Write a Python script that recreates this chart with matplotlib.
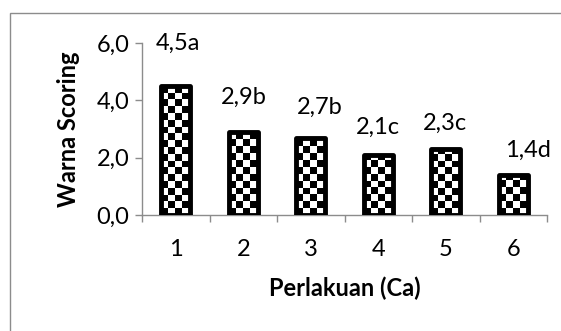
import numpy as np
import matplotlib
matplotlib.use("Agg")
import matplotlib.pyplot as plt
from matplotlib.patches import Rectangle
from matplotlib.ticker import FuncFormatter, FixedLocator

plt.rcParams['font.family'] = ['Lato', 'DejaVu Sans']

# Treatment means and significance letters
perlakuan = [1, 2, 3, 4, 5, 6]
warna_scoring = [4.5, 2.9, 2.7, 2.1, 2.3, 1.4]
notasi = ['a', 'b', 'b', 'c', 'c', 'd']

# Label placement (pixels relative to bar top centre)
label_dx = [2, 1, 9, 0, -1, 15]
label_dy = [43, 35, 30, 27, 26, 25]

W, H, DPI = 561, 331, 100
FS = 17
fig = plt.figure(figsize=(W / DPI, H / DPI), dpi=DPI)
fig.patch.set_facecolor('white')

# Chart area frame
fig.patches.append(Rectangle((10 / W, -0.05), 1.2, 1 - 13 / H + 0.05,
                             transform=fig.transFigure, fill=False,
                             edgecolor='#8c8c8c', linewidth=1.0))

ax = fig.add_axes([142 / W, 1 - 215 / H, (547 - 142) / W, (215 - 43) / H])
ax.set_xlim(0.5, 6.5)
ax.set_ylim(0, 6)

gray = '#8c8c8c'
for s in ['top', 'right']:
    ax.spines[s].set_visible(False)
for s in ['left', 'bottom']:
    ax.spines[s].set_color(gray)
    ax.spines[s].set_linewidth(1.0)

bars = ax.bar(perlakuan, warna_scoring, width=0.43, facecolor='none',
              edgecolor='black', linewidth=3.5, zorder=3)

# Checkerboard fill, clipped to each bar
cell_px = 6.8
x_cell = cell_px * (6.0 / (547 - 142))
y_cell = cell_px * (6.0 / (215 - 43))
nx = int(np.ceil(6.0 / x_cell)) + 1
ny = int(np.ceil(6.0 / y_cell)) + 1
board = (np.add.outer(np.arange(ny), np.arange(nx)) % 2).astype(float)
for b in bars:
    b.set_joinstyle('round')
    x0 = b.get_x()
    im = ax.imshow(board, cmap='gray', vmin=0, vmax=1, origin='lower',
                   extent=(x0, x0 + nx * x_cell, 0, ny * y_cell),
                   interpolation='nearest', aspect='auto', zorder=2)
    im.set_clip_path(b)
ax.set_xlim(0.5, 6.5)
ax.set_ylim(0, 6)

# Ticks
ax.yaxis.set_major_locator(FixedLocator([0, 2, 4, 6]))
ax.yaxis.set_major_formatter(FuncFormatter(lambda v, p: f"{v:.1f}".replace('.', ',')))
ax.tick_params(axis='y', direction='out', length=5, color=gray, labelsize=FS,
               pad=4, width=1.0)
ax.set_xticks(perlakuan)
ax.set_xticklabels([str(p) for p in perlakuan])
ax.set_xticks(np.arange(0.5, 7.0, 1.0), minor=True)
ax.tick_params(axis='x', which='major', length=0, labelsize=FS, pad=17)
ax.tick_params(axis='x', which='minor', direction='out', length=5, color=gray, width=1.0)

ax.set_ylabel('Warna Scoring', fontsize=FS, fontweight='bold', labelpad=12)
ax.set_xlabel('Perlakuan (Ca)', fontsize=FS, fontweight='bold', labelpad=12)

for x, v, n, dx, dy in zip(perlakuan, warna_scoring, notasi, label_dx, label_dy):
    ax.annotate(f"{v:.1f}".replace('.', ',') + n, xy=(x, v),
                xytext=(dx, dy), textcoords='offset pixels',
                ha='center', va='center', fontsize=FS, zorder=5,
                annotation_clip=False)

fig.savefig('out.png', dpi=DPI)
